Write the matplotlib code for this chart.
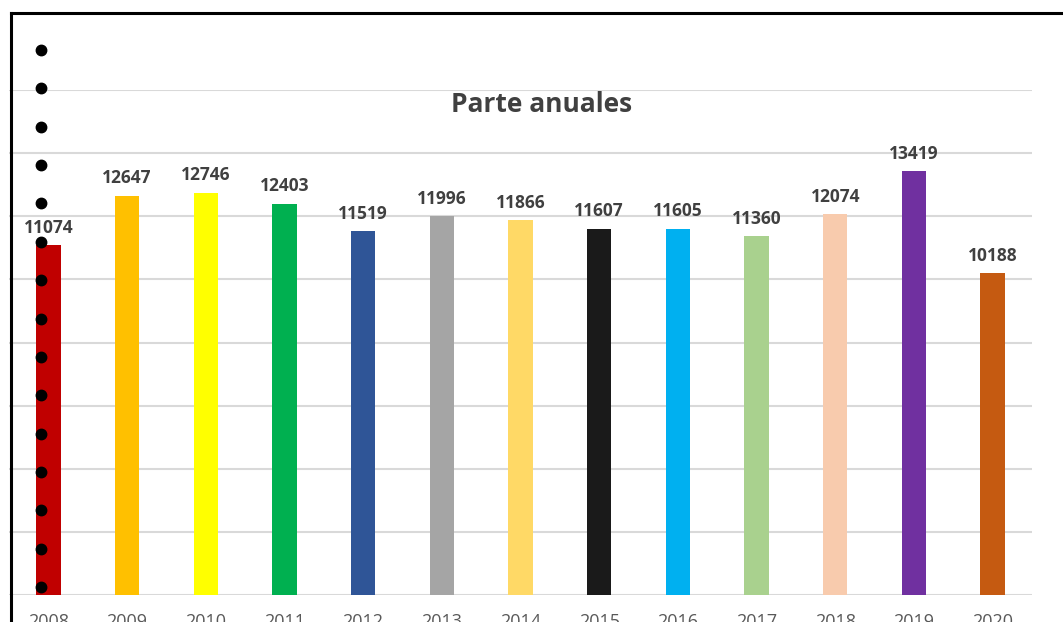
import matplotlib.pyplot as plt
from matplotlib.lines import Line2D
import numpy as np

# datos
years = ['2008', '2009', '2010', '2011', '2012', '2013', '2014',
         '2015', '2016', '2017', '2018', '2019', '2020']
values = [11074, 12647, 12746, 12403, 11519, 11996, 11866,
          11607, 11605, 11360, 12074, 13419, 10188]
colors = ['#C00000', '#FFC000', '#FFFF00', '#00B050', '#2F5597', '#A5A5A5',
          '#FFD966', '#1A1A1A', '#00B0F0', '#A9D18E', '#F8CBAD', '#7030A0',
          '#C55A11']
title = 'Parte anuales'

W, H = 1063, 622
fig = plt.figure(figsize=(W / 100, H / 100), dpi=100)
ax = fig.add_axes([9 / W, (H - 595) / H, (1032 - 9) / W, (595 - 90) / H])

x = np.arange(len(years))
ax.bar(x, values, width=0.31, color=colors, zorder=3)
for xi, v in zip(x, values):
    ax.annotate(str(v), (xi, v), xytext=(0, 6), textcoords='offset points',
                ha='center', va='bottom', fontsize=12.5, fontweight='bold',
                color='#404040', family='Open Sans')

ax.set_xlim(-0.5, len(years) - 0.5)
ax.set_ylim(0, 16000)
ax.set_yticks(np.arange(0, 16001, 2000))
ax.yaxis.grid(True, color='#D9D9D9', lw=1.5, zorder=0)
ax.tick_params(axis='y', left=False, labelleft=False)
ax.tick_params(axis='x', length=0, pad=13, labelsize=13, labelcolor='#595959')
ax.set_xticks(x)
ax.set_xticklabels(years, family='Open Sans')
for s in ax.spines.values():
    s.set_visible(False)

fig.text(542 / W, 1 - 105 / H, title, ha='center', va='center',
         fontsize=19, fontweight='bold', color='#404040', family='Open Sans')

# marco recortado
fig.add_artist(Line2D([11 / W, 11 / W], [0, 1 - 13 / H], color='black', lw=2.2))
fig.add_artist(Line2D([11 / W, 1], [1 - 13 / H, 1 - 13 / H], color='black', lw=2.2))

# puntos a la izquierda
dot_y = np.linspace(50, 587, 15)
fig.add_artist(Line2D(np.full(15, 41 / W), 1 - dot_y / H, ls='none',
                      marker='o', ms=7.5, color='black', zorder=10))

fig.savefig('out.png', dpi=100)
